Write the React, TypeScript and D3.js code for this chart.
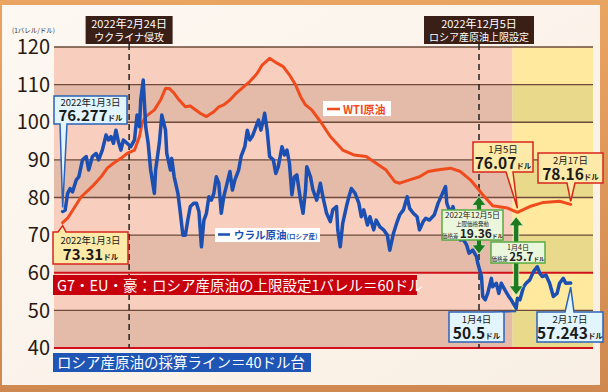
import React from "react";
import * as d3 from "d3";

const W = 608;
const H = 392;
const FONT = "'Noto Sans CJK JP', 'Noto Sans', sans-serif";

// y-axis ticks
const yTicks = [120, 110, 100, 90, 80, 70, 60, 50, 40];

// Ural crude (Russia) – daily-ish readings
const uralDates = [
  "2022-01-03","2022-01-05","2022-01-07","2022-01-09","2022-01-11","2022-01-14","2022-01-16","2022-01-19","2022-01-22","2022-01-24",
  "2022-01-27","2022-01-30","2022-02-01","2022-02-04","2022-02-07","2022-02-09","2022-02-11","2022-02-13","2022-02-15","2022-02-17",
  "2022-02-19","2022-02-21","2022-02-24","2022-02-27","2022-03-02","2022-03-04","2022-03-06","2022-03-07","2022-03-09","2022-03-11",
  "2022-03-13","2022-03-15","2022-03-18","2022-03-19","2022-03-22","2022-03-24","2022-03-27","2022-03-28","2022-03-31","2022-04-01",
  "2022-04-03","2022-04-06","2022-04-08","2022-04-10","2022-04-12","2022-04-14","2022-04-16","2022-04-19","2022-04-21","2022-04-23",
  "2022-04-25","2022-04-27","2022-04-29","2022-05-01","2022-05-03","2022-05-05","2022-05-07","2022-05-09","2022-05-11","2022-05-13",
  "2022-05-15","2022-05-18","2022-05-20","2022-05-22","2022-05-25","2022-05-27","2022-05-30","2022-06-01","2022-06-03","2022-06-05",
  "2022-06-07","2022-06-10","2022-06-12","2022-06-14","2022-06-15","2022-06-17","2022-06-19","2022-06-22","2022-06-24","2022-06-26",
  "2022-06-29","2022-07-01","2022-07-03","2022-07-05","2022-07-07","2022-07-09","2022-07-11","2022-07-14","2022-07-16","2022-07-18",
  "2022-07-19","2022-07-22","2022-07-24","2022-07-27","2022-07-30","2022-08-01","2022-08-04","2022-08-07","2022-08-09","2022-08-12",
  "2022-08-13","2022-08-15","2022-08-17","2022-08-20","2022-08-22","2022-08-24","2022-08-27","2022-08-30","2022-09-01","2022-09-03",
  "2022-09-06","2022-09-08","2022-09-11","2022-09-13","2022-09-16","2022-09-19","2022-09-22","2022-09-24","2022-09-27","2022-09-30",
  "2022-10-02","2022-10-05","2022-10-08","2022-10-10","2022-10-13","2022-10-16","2022-10-18","2022-10-21","2022-10-23","2022-10-26",
  "2022-10-30","2022-11-02","2022-11-05","2022-11-08","2022-11-09","2022-11-12","2022-11-14","2022-11-17","2022-11-20","2022-11-22",
  "2022-11-25","2022-11-27","2022-11-30","2022-12-03","2022-12-04","2022-12-07","2022-12-08","2022-12-10","2022-12-12","2022-12-15",
  "2022-12-16","2022-12-19","2022-12-21","2022-12-23","2022-12-26","2022-12-29","2022-12-31","2023-01-04","2023-01-05","2023-01-07",
  "2023-01-10","2023-01-12","2023-01-15","2023-01-18","2023-01-21","2023-01-23","2023-01-25","2023-01-28","2023-01-31","2023-02-03",
  "2023-02-06","2023-02-08","2023-02-11","2023-02-13","2023-02-17",
];
const uralValues = [
  76.28, 76.6, 81.1, 82.4, 81.5, 84.7, 85.5, 90.0, 90.9, 87.3,
  90.9, 91.7, 90.0, 92.6, 96.6, 95.3, 96.2, 94.4, 97.9, 94.8,
  92.6, 95.3, 94.4, 93.5, 95.3, 101.9, 98.8, 105.9, 111.2, 98.8,
  94.4, 87.3, 81.1, 87.3, 94.4, 101.9, 97.9, 91.7, 87.3, 90.4,
  85.5, 81.1, 75.8, 70.0, 70.0, 74.0, 77.6, 78.5, 78.5, 76.2,
  66.9, 74.0, 75.8, 80.2, 79.3, 81.1, 85.5, 83.8, 75.8, 80.2,
  82.9, 86.9, 82.0, 84.7, 87.3, 90.9, 93.5, 97.9, 95.3, 96.2,
  97.9, 100.6, 97.9, 100.6, 102.4, 97.9, 90.9, 90.0, 86.4, 88.2,
  93.5, 91.3, 92.6, 89.1, 80.7, 85.5, 86.0, 79.3, 75.8, 82.0,
  88.2, 85.5, 82.0, 79.3, 83.8, 80.2, 75.8, 73.6, 76.7, 77.6,
  71.4, 66.9, 73.1, 77.6, 80.2, 82.4, 81.1, 78.5, 74.9, 76.7,
  72.7, 74.9, 71.4, 74.0, 72.2, 71.4, 70.0, 66.0, 70.5, 73.6,
  75.4, 76.7, 80.2, 77.1, 75.8, 74.9, 71.4, 73.6, 74.5, 74.0,
  75.4, 78.5, 80.7, 82.9, 78.5, 75.8, 77.6, 73.0, 68.7, 69.0,
  67.4, 65.2, 66.0, 64.3, 62.5, 59.0, 53.7, 52.8, 54.5, 58.5,
  56.3, 57.2, 54.5, 57.2, 55.4, 53.7, 52.8, 50.5, 53.2, 52.8,
  56.3, 57.2, 58.1, 60.3, 61.6, 59.9, 59.0, 59.4, 57.2, 53.7,
  54.5, 57.2, 58.5, 57.2, 57.243,
];

// WTI crude
const wtiDates = [
  "2022-01-03","2022-01-07","2022-01-18","2022-01-28","2022-02-03","2022-02-08","2022-02-13","2022-02-19","2022-02-24","2022-03-02",
  "2022-03-06","2022-03-08","2022-03-11","2022-03-18","2022-03-23","2022-03-27","2022-03-30","2022-04-03","2022-04-07","2022-04-12",
  "2022-04-16","2022-04-24","2022-04-29","2022-05-05","2022-05-09","2022-05-13","2022-05-18","2022-05-23","2022-05-29","2022-06-03",
  "2022-06-09","2022-06-13","2022-06-19","2022-06-25","2022-06-30","2022-07-05","2022-07-10","2022-07-14","2022-07-18","2022-07-23",
  "2022-07-30","2022-08-07","2022-08-17","2022-08-26","2022-09-05","2022-09-13","2022-09-21","2022-09-28","2022-10-02","2022-10-10",
  "2022-10-18","2022-10-25","2022-11-01","2022-11-12","2022-11-20","2022-11-28","2022-12-05","2022-12-08","2022-12-16","2022-12-28",
  "2023-01-05","2023-01-15","2023-01-26","2023-02-08","2023-02-17",
];
const wtiValues = [
  73.31, 74.5, 80.2, 83.3, 85.5, 87.8, 89.1, 90.4, 91.7, 92.6,
  96.2, 99.7, 101.5, 103.3, 105.9, 109.0, 109.0, 107.7, 105.9, 104.1,
  104.3, 102.4, 101.5, 102.8, 104.1, 104.6, 105.9, 107.7, 109.4, 110.8,
  113.0, 115.2, 117.0, 115.7, 114.8, 112.6, 109.9, 106.8, 104.6, 103.3,
  100.2, 96.2, 92.6, 91.3, 90.9, 89.1, 87.3, 84.2, 83.8, 84.7,
  85.5, 86.9, 87.3, 87.8, 86.9, 84.7, 82.0, 80.7, 77.8, 77.2,
  76.07, 77.6, 78.7, 79.0, 78.16,
];

// event markers
const eventDates = ["2022-02-24", "2022-12-05"];
const eventLine1 = ["2022年2月24日", "2022年12月5日"];
const eventLine2 = ["ウクライナ侵攻", "ロシア産原油上限設定"];

// price gaps (green arrows)
const gapDates = ["2022-12-05", "2023-01-04"];
const gapTop = [80.3, 74.9];
const gapBottom = [65.0, 54.1];

const parse = d3.timeParse("%Y-%m-%d");

function callout(
  bx: number, by: number, bw: number, bh: number,
  side: "top" | "bottom", b1: number, b2: number, tx: number, ty: number
) {
  if (side === "bottom") {
    return `M${bx},${by}H${bx + bw}V${by + bh}H${b2}L${tx},${ty}L${b1},${by + bh}H${bx}Z`;
  }
  return `M${bx},${by}H${b1}L${tx},${ty}L${b2},${by}H${bx + bw}V${by + bh}H${bx}Z`;
}

function arrowPath(cx: number, yTop: number, yBot: number) {
  const hh = 9, hw = 7, sw = 2.6;
  return [
    [cx, yTop], [cx + hw, yTop + hh], [cx + sw, yTop + hh], [cx + sw, yBot - hh],
    [cx + hw, yBot - hh], [cx, yBot], [cx - hw, yBot - hh], [cx - sw, yBot - hh],
    [cx - sw, yTop + hh], [cx - hw, yTop + hh],
  ].map((p, i) => (i ? "L" : "M") + p[0] + "," + p[1]).join("") + "Z";
}

export default function App() {
  const x = d3.scaleTime()
    .domain([parse("2021-12-27") as Date, parse("2023-03-07") as Date])
    .range([54, 593]);
  const y = d3.scaleLinear().domain([40, 120]).range([348, 47]);

  const ural = uralDates.map((d, i) => ({ d: parse(d) as Date, v: uralValues[i] }));
  const wti = wtiDates.map((d, i) => ({ d: parse(d) as Date, v: wtiValues[i] }));

  const line = d3.line<{ d: Date; v: number }>().x((p) => x(p.d)).y((p) => y(p.v));

  const x0 = x.range()[0];
  const x1 = x.range()[1];
  const xYellow = x(parse("2023-01-01") as Date);

  const bands = yTicks.slice(0, -1).map((t, i) => ({ top: t, bot: t - 10, light: i % 2 === 0 }));

  const xJan3 = x(parse("2022-01-03") as Date);
  const xJan5 = x(parse("2023-01-05") as Date);
  const xJan4 = x(parse("2023-01-04") as Date);
  const xFeb17 = x(parse("2023-02-17") as Date);

  const txt = { fontFamily: FONT } as React.CSSProperties;

  return (
    <svg width={W} height={H} style={{ position: "absolute", left: 0, top: 0, ...txt }}>
      <defs>
        <linearGradient id="bg" x1="0" y1="0" x2="0" y2="1">
          <stop offset="0" stopColor="#eaa462" />
          <stop offset="1" stopColor="#cf8850" />
        </linearGradient>
        <linearGradient id="panel" x1="0" y1="0" x2="1" y2="1">
          <stop offset="0" stopColor="#fdf8f2" />
          <stop offset="1" stopColor="#f9efe4" />
        </linearGradient>
      </defs>
      <rect x={0} y={0} width={W} height={H} fill="url(#bg)" />
      <rect x={2} y={5} width={598} height={380} fill="url(#panel)" />

      {/* bands */}
      {bands.map((b, i) => (
        <g key={i}>
          <rect x={x0} y={y(b.top)} width={xYellow - x0} height={y(b.bot) - y(b.top)}
            fill={b.light ? "#f8cebf" : "#e4baa8"} />
          <rect x={xYellow} y={y(b.top)} width={x1 - xYellow} height={y(b.bot) - y(b.top)}
            fill={b.light ? "#fee99e" : "#e9d98b"} />
        </g>
      ))}

      {/* grid */}
      {yTicks.map((t) => (
        <line key={t} x1={x0} x2={x1} y1={y(t)} y2={y(t)}
          stroke={t === 60 || t === 40 ? "#d0101a" : "#6d4a3a"}
          strokeWidth={t === 60 || t === 40 ? 2 : 1.4} />
      ))}

      {/* tick labels */}
      {yTicks.map((t) => (
        <text key={t} x={50} y={y(t)} dy="0.36em" textAnchor="end" fontSize={20} fill="#2a1810">{t}</text>
      ))}
      <text x={12} y={33} fontSize={6.5} fill="#333">(1バレル/ドル)</text>

      {/* event dashed lines & labels */}
      {eventDates.map((d, i) => {
        const ex = x(parse(d) as Date) + (i === 0 ? 2 : 0);
        const bw = i === 0 ? 87 : 110;
        return (
          <g key={d}>
            <line x1={ex} x2={ex} y1={44} y2={348} stroke="#222" strokeWidth={1.5} strokeDasharray="6,4" />
            <rect x={ex - bw / 2} y={16} width={bw} height={28} fill="#3a1f16" />
            <text x={ex} y={28} textAnchor="middle" fontSize={11} fill="#fff">{eventLine1[i]}</text>
            <text x={ex} y={40.5} textAnchor="middle" fontSize={10} fill="#fff">{eventLine2[i]}</text>
          </g>
        );
      })}

      {/* series */}
      <path d={line(wti) || ""} fill="none" stroke="#f04b1c" strokeWidth={3} strokeLinejoin="round" strokeLinecap="round" />
      <path d={line(ural) || ""} fill="none" stroke="#1b4fb2" strokeWidth={3.5} strokeLinejoin="round" strokeLinecap="round" />

      {/* legends */}
      <rect x={323} y={101} width={68} height={15} fill="#fff" />
      <line x1={327} x2={340} y1={109} y2={109} stroke="#f04b1c" strokeWidth={2.5} />
      <text x={343} y={113.5} fontSize={11} fontWeight={700} fill="#f04b1c">WTI原油</text>
      <rect x={215} y={228} width={105} height={14} fill="#fff" />
      <line x1={218} x2={230} y1={234.5} y2={234.5} stroke="#1b4fb2" strokeWidth={2.5} />
      <text x={234} y={239} fontSize={10.5} fontWeight={700} fill="#1b4fb2">
        ウラル原油<tspan fontSize={6.5}>(ロシア産)</tspan>
      </text>

      {/* green gap arrows */}
      {gapDates.map((d, i) => (
        <path key={d} d={arrowPath(x(parse(d) as Date), y(gapTop[i]), y(gapBottom[i]))}
          fill="#1d7a1f" stroke="#d8efc8" strokeWidth={0.8} />
      ))}
      <rect x={442} y={210} width={61} height={30} fill="#ebf7dd" stroke="#4ea83a" strokeWidth={1.4} />
      <text x={472.5} y={218} textAnchor="middle" fontSize={8} fill="#222">2022年12月5日</text>
      <text x={472.5} y={226} textAnchor="middle" fontSize={5.5} fill="#222">上限価格発動</text>
      <text x={472.5} y={238} textAnchor="middle" fill="#222">
        <tspan fontSize={5.5}>価格差 </tspan>
        <tspan fontSize={12} fontWeight={700}>19.36</tspan>
        <tspan fontSize={5.5} fontWeight={700}>ドル</tspan>
      </text>
      <rect x={491} y={242} width={54} height={21} fill="#ebf7dd" stroke="#4ea83a" strokeWidth={1.4} />
      <text x={518} y={249.5} textAnchor="middle" fontSize={7} fill="#222">1月4日</text>
      <text x={518} y={261} textAnchor="middle" fill="#222">
        <tspan fontSize={5.5}>価格差 </tspan>
        <tspan fontSize={11.5} fontWeight={700}>25.7</tspan>
        <tspan fontSize={5.5} fontWeight={700}>ドル</tspan>
      </text>

      {/* callouts */}
      <path d={callout(54, 96, 73, 28, "bottom", 60, 67, xJan3, y(76.28) - 4)} fill="#e2f4fc" stroke="#2a62b8" strokeWidth={1.5} />
      <text x={90.5} y={106} textAnchor="middle" fontSize={9.5} fill="#1a1a1a">2022年1月3日</text>
      <text x={90.5} y={121} textAnchor="middle" fill="#1a1a1a" fontWeight={700}>
        <tspan fontSize={15}>76.277</tspan><tspan fontSize={7.5}>ドル</tspan>
      </text>

      <path d={callout(53, 232, 75, 32, "top", 58, 66, xJan3, y(73.31) + 3)} fill="#fde9a8" stroke="#d8261c" strokeWidth={1.5} />
      <text x={90.5} y={244} textAnchor="middle" fontSize={9.5} fill="#1a1a1a">2022年1月3日</text>
      <text x={90.5} y={260} textAnchor="middle" fill="#1a1a1a" fontWeight={700}>
        <tspan fontSize={15}>73.31</tspan><tspan fontSize={7.5}>ドル</tspan>
      </text>

      <path d={callout(473, 142, 60, 30, "bottom", 506, 513, xJan5, y(76.07) - 4)} fill="#fde9a8" stroke="#d8261c" strokeWidth={1.5} />
      <text x={503} y={152.5} textAnchor="middle" fontSize={9.5} fill="#1a1a1a">1月5日</text>
      <text x={503} y={169} textAnchor="middle" fill="#1a1a1a" fontWeight={700}>
        <tspan fontSize={15.5}>76.07</tspan><tspan fontSize={7.5}>ドル</tspan>
      </text>

      <path d={callout(538, 153, 65, 30, "bottom", 567, 575, xFeb17, y(78.16) - 3)} fill="#fde9a8" stroke="#d8261c" strokeWidth={1.5} />
      <text x={570.5} y={163.5} textAnchor="middle" fontSize={9.5} fill="#1a1a1a">2月17日</text>
      <text x={570.5} y={180} textAnchor="middle" fill="#1a1a1a" fontWeight={700}>
        <tspan fontSize={15.5}>78.16</tspan><tspan fontSize={7.5}>ドル</tspan>
      </text>

      <path d={callout(449, 312, 55, 30, "top", 492, 502, xJan4, y(50.5) + 3)} fill="#e2f4fc" stroke="#2a62b8" strokeWidth={1.5} />
      <text x={476.5} y={322.5} textAnchor="middle" fontSize={9.5} fill="#1a1a1a">1月4日</text>
      <text x={476.5} y={339} textAnchor="middle" fill="#1a1a1a" fontWeight={700}>
        <tspan fontSize={15.5}>50.5</tspan><tspan fontSize={7.5}>ドル</tspan>
      </text>

      <path d={callout(537, 312, 66, 30, "top", 565, 574, xFeb17, y(57.243) + 4)} fill="#e2f4fc" stroke="#2a62b8" strokeWidth={1.5} />
      <text x={570} y={322.5} textAnchor="middle" fontSize={9.5} fill="#1a1a1a">2月17日</text>
      <text x={570} y={339} textAnchor="middle" fill="#1a1a1a" fontWeight={700}>
        <tspan fontSize={15.5}>57.243</tspan><tspan fontSize={7.5}>ドル</tspan>
      </text>

      {/* banners */}
      <rect x={53} y={275} width={364} height={20} fill="#c8000e" />
      <text x={57} y={290.5} fontSize={14.5} fill="#fff">G7・EU・豪：ロシア産原油の上限設定1バレル＝60ドル</text>
      <rect x={53} y={353} width={258} height={19} fill="#1f55b5" />
      <text x={57} y={367.5} fontSize={14.5} fill="#fff">ロシア産原油の採算ライン＝40ドル台</text>
    </svg>
  );
}
